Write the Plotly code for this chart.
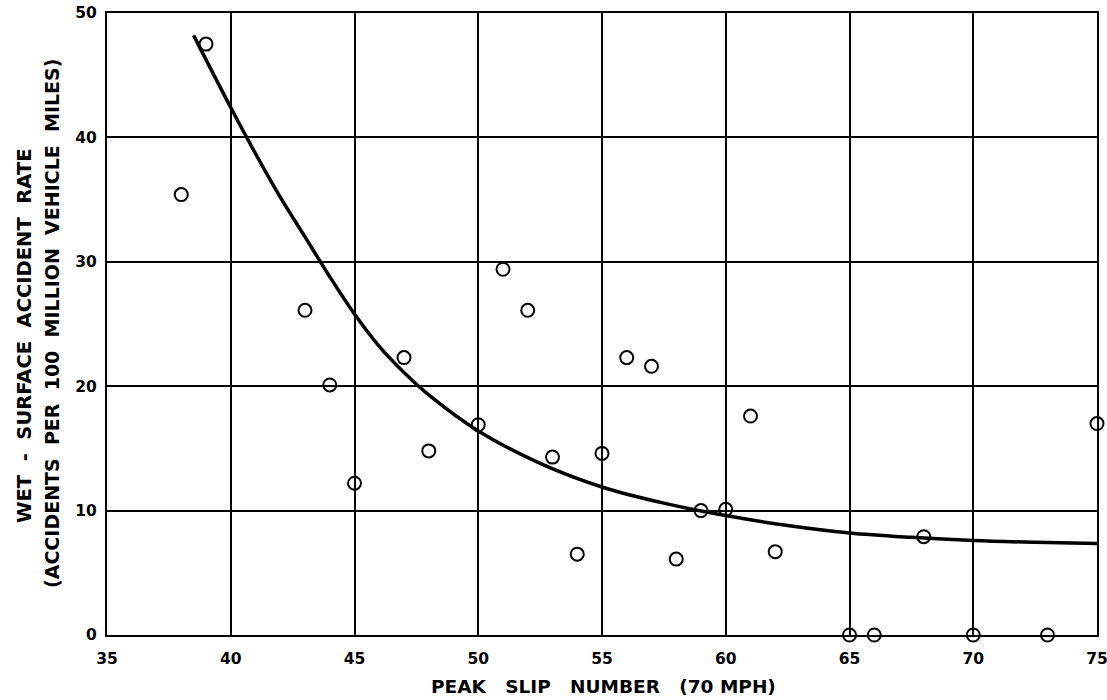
import plotly.graph_objects as go

# Observed data points
slip_number = [38, 39, 43, 44, 45, 47, 48, 50, 51, 52, 53, 54, 55, 56, 57, 58, 59, 60, 61, 62, 65, 66, 68, 70, 73, 75]
accident_rate = [35.4, 47.5, 26.1, 20.1, 12.2, 22.3, 14.8, 16.9, 29.4, 26.1, 14.3, 6.5, 14.6, 22.3, 21.6, 6.1, 10.0, 10.1, 17.6, 6.7, 0, 0, 7.9, 0, 0, 17.0]

# Fitted curve
curve_x = [38.5, 40, 41, 42, 43, 44, 45, 46, 47, 48, 50, 52.5, 55, 57.5, 60, 62.5, 65, 67.5, 70, 72.5, 75]
curve_y = [48.2, 42.4, 38.7, 35.2, 32.0, 28.8, 25.8, 23.2, 21.1, 19.3, 16.4, 13.8, 11.9, 10.6, 9.6, 8.8, 8.2, 7.85, 7.6, 7.45, 7.35]

x_ticks = [35, 40, 45, 50, 55, 60, 65, 70, 75]
y_ticks = [0, 10, 20, 30, 40, 50]

FONT = "DejaVu Sans"
NB = "\u00a0"

fig = go.Figure()
fig.add_trace(go.Scatter(
    x=curve_x, y=curve_y, mode="lines",
    line=dict(color="black", width=3.5, shape="spline", smoothing=1.0),
    hoverinfo="skip", showlegend=False, cliponaxis=False))
fig.add_trace(go.Scatter(
    x=slip_number, y=accident_rate, mode="markers",
    marker=dict(symbol="circle-open", size=13, color="black", line=dict(width=2, color="black")),
    showlegend=False, cliponaxis=False))

axis_common = dict(
    showgrid=True, gridcolor="black", gridwidth=1.5,
    showline=True, linecolor="black", linewidth=2, mirror=True,
    zeroline=False, ticks="", automargin=False, ticklabeloverflow="allow",
    tickfont=dict(family=FONT, size=15.5, color="black", weight="bold"),
)

def spaced(words, gap=2):
    return (NB * gap).join(w.replace(" ", NB) for w in words)

fig.update_layout(
    width=1107, height=700,
    margin=dict(l=107, r=10, t=13, b=65),
    paper_bgcolor="white", plot_bgcolor="white",
    font=dict(family=FONT, color="black"),
    xaxis=dict(range=[35, 75], tickvals=x_ticks, ticktext=[str(v) for v in x_ticks],
               ticklabelstandoff=8, **axis_common),
    yaxis=dict(range=[0, 50], tickvals=y_ticks, ticktext=[str(v) for v in y_ticks],
               ticklabelstandoff=5, **axis_common),
    annotations=[
        dict(text=spaced(["PEAK", "SLIP", "NUMBER", "(70 MPH)"], 3),
             xref="paper", yref="paper", x=0.502, y=-0.0836, xanchor="center", yanchor="middle",
             showarrow=False, font=dict(family=FONT, size=18.5, color="black", weight="bold")),
        dict(text=spaced(["WET", "-", "SURFACE", "ACCIDENT", "RATE"], 2),
             xref="paper", yref="paper", x=-0.0838, y=0.4807, xanchor="center", yanchor="middle",
             textangle=-90,
             showarrow=False, font=dict(family=FONT, size=19.5, color="black", weight="bold")),
        dict(text=spaced(["(ACCIDENTS", "PER", "100", "MILLION", "VEHICLE", "MILES)"], 2),
             xref="paper", yref="paper", x=-0.0556, y=0.5016, xanchor="center", yanchor="middle",
             textangle=-90,
             showarrow=False, font=dict(family=FONT, size=19, color="black", weight="bold")),
    ],
)

fig.write_html("out.html")
